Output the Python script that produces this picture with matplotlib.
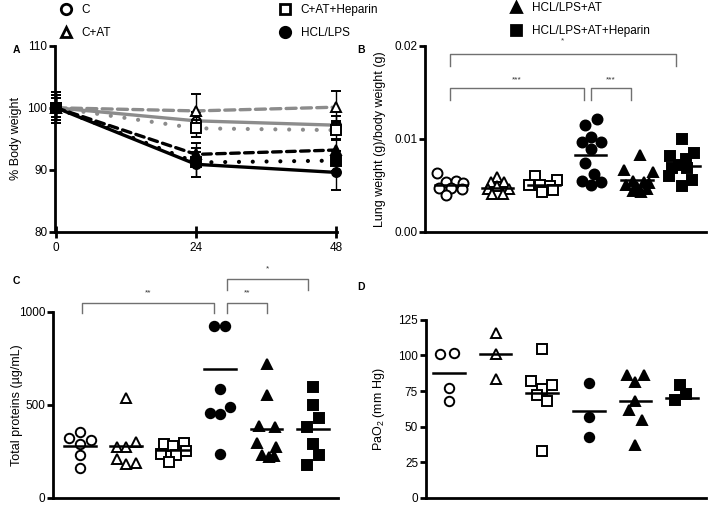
import numpy as np
import matplotlib.pyplot as plt

plt.rcParams['font.family'] = ['Liberation Sans', 'DejaVu Sans']
plt.rcParams['mathtext.fontset'] = 'custom'
plt.rcParams['mathtext.rm'] = 'Liberation Sans'
plt.rcParams['mathtext.it'] = 'Liberation Sans:italic'

groups = ['C', 'C+AT', 'C+AT+Heparin', 'HCL/LPS', 'HCL/LPS+AT', 'HCL/LPS+AT+Heparin']

# A: % body weight over time
hours = [0, 24, 48]
bw_mean = [
    [100, 97.9, 97.2],
    [100, 99.5, 100.1],
    [100, 96.7, 96.4],
    [100, 90.9, 89.6],
    [100, 92.5, 93.2],
    [100, 91.2, 91.5],
]
bw_err = [
    [1.5, 1.5, 1.4],
    [2.5, 2.7, 2.6],
    [1.5, 1.4, 1.5],
    [2.5, 2.0, 2.8],
    [2.0, 1.9, 1.6],
    [2.0, 2.4, 1.6],
]

# B: lung weight / body weight
lung_vals = [
    [0.0063, 0.0053, 0.0054, 0.0052, 0.0047, 0.0047, 0.0046, 0.0039],
    [0.0059, 0.0053, 0.0053, 0.0046, 0.0049, 0.0046, 0.0041, 0.0041],
    [0.0060, 0.0056, 0.0050, 0.0050, 0.0049, 0.0043, 0.0045],
    [0.0121, 0.0115, 0.0102, 0.0096, 0.0096, 0.0089, 0.0074, 0.0062, 0.0054, 0.0053, 0.0050],
    [0.0083, 0.0066, 0.0064, 0.0055, 0.0053, 0.0050, 0.0048, 0.0046, 0.0044, 0.0043, 0.0052],
    [0.0100, 0.0081, 0.0085, 0.0078, 0.0072, 0.0068, 0.0068, 0.0060, 0.0056, 0.0049],
]
lung_jit = [
    [-0.29, -0.11, 0.11, 0.25, -0.25, 0.0, 0.23, -0.11],
    [0.0, -0.14, 0.14, -0.21, 0.0, 0.25, -0.11, 0.11],
    [-0.2, 0.28, -0.32, -0.08, 0.12, -0.05, 0.2],
    [0.13, -0.12, 0.0, -0.19, 0.22, 0.0, -0.12, 0.08, -0.19, 0.22, 0.0],
    [0.05, -0.28, 0.33, -0.1, 0.14, -0.25, 0.0, 0.2, -0.1, 0.08, 0.25],
    [-0.04, -0.29, 0.21, 0.04, -0.11, -0.25, 0.07, -0.32, 0.18, -0.04],
]
lung_line = [0.0050, 0.0047, 0.0050, 0.0082, 0.0056, 0.0071]

# C: total proteins
prot_vals = [
    [355, 323, 311, 290, 231, 159],
    [538, 275, 275, 298, 207, 182, 189],
    [290, 280, 297, 236, 231, 254, 195],
    [922, 922, 583, 454, 449, 486, 236],
    [718, 552, 386, 382, 293, 275, 231, 221, 225],
    [593, 499, 427, 382, 290, 231, 177],
]
prot_jit = [
    [0.0, -0.22, 0.24, 0.0, 0.0, 0.0],
    [0.0, -0.2, 0.0, 0.2, -0.2, 0.0, 0.2],
    [-0.2, 0.0, 0.23, -0.25, 0.07, 0.28, -0.09],
    [-0.13, 0.12, 0.0, -0.2, 0.0, 0.22, 0.0],
    [0.0, 0.0, -0.17, 0.18, -0.2, 0.2, -0.1, 0.05, 0.16],
    [0.0, 0.0, 0.12, -0.13, 0.0, 0.12, -0.13],
]
prot_line = [281, 281, 257, 690, 368, 368]

# D: PaO2
pao2_vals = [
    [101.3, 101.8, 77.2, 68.3],
    [115.6, 101.3, 83.5],
    [104.5, 82.1, 76.6, 79.0, 72.3, 67.9, 33.0],
    [80.6, 57.1, 42.6],
    [86.2, 86.2, 81.2, 68.3, 61.6, 54.5, 37.5],
    [79.0, 73.2, 68.8],
]
pao2_jit = [
    [-0.19, 0.11, 0.0, 0.0],
    [0.0, 0.0, 0.0],
    [0.0, -0.23, 0.0, 0.21, -0.12, 0.11, 0.0],
    [0.0, 0.0, 0.0],
    [-0.18, 0.18, 0.0, 0.0, -0.14, 0.14, 0.0],
    [-0.04, 0.09, -0.16],
]
pao2_line = [87.3, 100.7, 73.4, 61.2, 67.9, 69.9]

gray = '#8c8c8c'
markers = ['o', '^', 's', 'o', '^', 's']
faces = ['white', 'white', 'white', 'black', 'black', 'black']
line_colors = [gray, gray, gray, 'black', 'black', 'black']
dot = (0, (0.01, 3.3))
line_styles = ['-', (0, (3.0, 1.6)), dot, '-', (0, (2.6, 1.6)), dot]
line_widths = [2.4, 2.4, 3.0, 2.4, 2.4, 3.0]

fig = plt.figure(figsize=(7.08, 5.05), dpi=100)


def style_axes(ax):
    for s in ['top', 'right']:
        ax.spines[s].set_visible(False)
    for s in ['left', 'bottom']:
        ax.spines[s].set_linewidth(2.0)
    ax.tick_params(axis='y', direction='out', length=4, width=2, labelsize=8.5, pad=1.5)


# ---- A ----
axA = fig.add_axes([0.0777, 0.5406, 0.3983, 0.3689])
style_axes(axA)
for i in range(6):
    axA.errorbar(hours, bw_mean[i], yerr=bw_err[i], color=line_colors[i], ls=line_styles[i],
                 lw=line_widths[i], dash_capstyle='round', marker=markers[i], ms=6.5,
                 mfc=faces[i], mec='black', mew=1.4, ecolor='black', elinewidth=1.0,
                 capsize=3.5, capthick=1.0, clip_on=False, zorder=3 + i)
axA.set_xlim(-0.2, 48.2)
axA.set_ylim(80, 110)
axA.set_yticks([80, 90, 100, 110])
axA.set_xticks(hours)
axA.tick_params(axis='x', direction='inout', length=8, width=2, labelsize=8.5, pad=3)
axA.set_ylabel('% Body weight', fontsize=9)
axA.yaxis.set_label_coords(-0.118, 0.5)


def dot_panel(ax, vals, jit, lines, ms):
    style_axes(ax)
    ax.tick_params(axis='x', bottom=False, labelbottom=False)
    for i in range(6):
        xs = i + 1 + np.array(jit[i])
        ax.plot(xs, vals[i], ls='none', marker=markers[i], ms=ms, mfc=faces[i],
                mec='black', mew=1.4, clip_on=False, zorder=3)
        ax.plot([i + 1 - 0.34, i + 1 + 0.34], [lines[i], lines[i]], color='black', lw=1.8, zorder=4)


def bracket(ax, x1, x2, ytop, yleg, ytxt, txt):
    ax.plot([x1, x1, x2, x2], [yleg, ytop, ytop, yleg], color='#707070', lw=1.0, clip_on=False)
    ax.text((x1 + x2) / 2, ytxt, txt, ha='center', va='center', fontsize=6, color='#333333')


# ---- B ----
axB = fig.add_axes([0.600, 0.5412, 0.3968, 0.3683])
dot_panel(axB, lung_vals, lung_jit, lung_line, 7.2)
axB.set_xlim(0.44, 6.47)
axB.set_ylim(0, 0.02)
axB.set_yticks([0, 0.01, 0.02])
axB.set_yticklabels(['0.00', '0.01', '0.02'])
axB.set_ylabel('Lung weight (g)/body weight (g)', fontsize=9)
axB.yaxis.set_label_coords(-0.138, 0.5)
bracket(axB, 0.98, 5.83, 0.01906, 0.0178, 0.0205, '*')
bracket(axB, 0.98, 3.86, 0.01547, 0.0142, 0.0163, '***')
bracket(axB, 4.0, 4.86, 0.01547, 0.0142, 0.0163, '***')

# ---- C ----
axC = fig.add_axes([0.0749, 0.0139, 0.4025, 0.3692])
dot_panel(axC, prot_vals, prot_jit, prot_line, 6.8)
axC.set_xlim(0.43, 6.53)
axC.set_ylim(0, 1000)
axC.set_yticks([0, 500, 1000])
axC.set_ylabel('Total proteins (\u00b5g/mL)', fontsize=9)
axC.yaxis.set_label_coords(-0.105, 0.5)
bracket(axC, 1.05, 3.88, 1044, 990, 1100, '**')
bracket(axC, 4.15, 5.02, 1044, 990, 1100, '**')
bracket(axC, 4.15, 5.88, 1173, 1115, 1228, '*')

# ---- D ----
axD = fig.add_axes([0.6013, 0.0139, 0.3955, 0.3530])
dot_panel(axD, pao2_vals, pao2_jit, pao2_line, 6.8)
axD.set_xlim(0.5, 6.51)
axD.set_ylim(0, 125)
axD.set_yticks([0, 25, 50, 75, 100, 125])
axD.set_ylabel('PaO$_2$ (mm Hg)', fontsize=9)
axD.yaxis.set_label_coords(-0.14, 0.5)

# panel letters
for lbl, x, y in [('A', 13, 50), ('B', 357, 50), ('C', 13, 281), ('D', 357, 287)]:
    fig.text(x / 708, 1 - y / 505, lbl, fontsize=7.5, fontweight='bold', va='center', ha='left')

# legend, three columns of two entries
handles = [plt.Line2D([], [], ls='none', marker=markers[i], ms=7.5, mfc=faces[i], mec='black',
                      mew=2.0) for i in range(6)]
for k, (ax_x, ax_y) in enumerate([(60, 4), (279, 4), (510, 2)]):
    fig.legend(handles[2 * k:2 * k + 2], groups[2 * k:2 * k + 2], loc='upper left',
               bbox_to_anchor=(ax_x / 708, 1 - ax_y / 505), frameon=False, fontsize=8.5,
               handlelength=1.0, handletextpad=0.85, labelspacing=0.95, borderpad=0,
               borderaxespad=0)

fig.savefig('out.png', dpi=100)
